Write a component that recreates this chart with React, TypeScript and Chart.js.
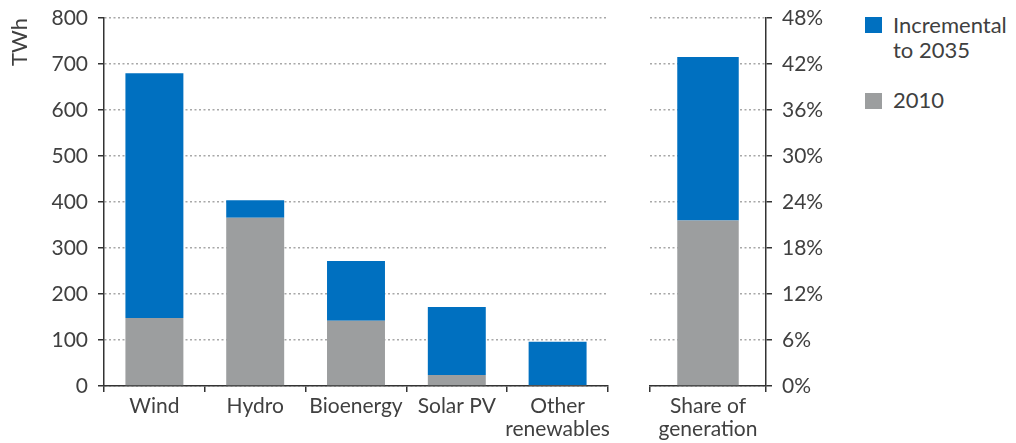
import React, { useEffect, useRef } from "react";
import { Chart, registerables } from "chart.js";

Chart.register(...registerables);

// ---- Data ----
const categories: (string | string[])[] = ["Wind", "Hydro", "Bioenergy", "Solar PV", ["Other", "renewables"]];
const values2010 = [148, 366, 142, 24, 2];
const valuesIncremental = [532, 38, 130, 148, 94];

const shareCategories: (string | string[])[] = [["Share of", "generation"]];
const share2010 = [21.6];
const shareIncremental = [21.3];

const legendLabels = ["Incremental\nto 2035", "2010"];

// ---- Styles ----
const BLUE = "#0070C0";
const GRAY = "#9C9E9F";
const TEXT = "#404040";
const AXIS = "#333333";
const GRID = "#A8A8A8";
const FONT = "Lato, 'Open Sans', sans-serif";
const TICK_SIZE = 21;

function baseScales(yOpts: any) {
  return {
    x: {
      stacked: true,
      offset: true,
      grid: {
        display: true,
        offset: true,
        drawOnChartArea: false,
        drawTicks: true,
        tickLength: 6,
        color: AXIS,
        lineWidth: 1.5,
      },
      border: { display: true, color: AXIS, width: 1.5 },
      ticks: {
        color: TEXT,
        font: { family: FONT, size: TICK_SIZE, lineHeight: 1.12 },
        padding: 2,
        maxRotation: 0,
        autoSkip: false,
      },
      afterFit: (s: any) => {
        s.height = 57;
      },
    },
    y: yOpts,
  };
}

function yScale(opts: any) {
  return {
    stacked: true,
    min: opts.min,
    max: opts.max,
    position: opts.position,
    grid: {
      color: GRID,
      lineWidth: 1.5,
      tickColor: AXIS,
      tickLength: 6,
      drawTicks: true,
    },
    border: { display: true, color: AXIS, width: 1.5, dash: [2, 2.5] },
    ticks: {
      stepSize: opts.step,
      color: TEXT,
      font: { family: FONT, size: TICK_SIZE },
      padding: 10,
      callback: opts.callback,
    },
    title: opts.title,
    afterFit: (s: any) => {
      s.width = opts.width;
      s.paddingTop = 12;
      s.paddingBottom = 12;
    },
  };
}

export default function App() {
  const leftRef = useRef<HTMLCanvasElement>(null);
  const rightRef = useRef<HTMLCanvasElement>(null);

  useEffect(() => {
    const left = new Chart(leftRef.current!, {
      type: "bar",
      data: {
        labels: categories as any,
        datasets: [
          { label: "2010", data: values2010, backgroundColor: GRAY, barPercentage: 0.575, categoryPercentage: 1 },
          { label: "Incremental to 2035", data: valuesIncremental, backgroundColor: BLUE, barPercentage: 0.575, categoryPercentage: 1 },
        ],
      },
      options: {
        animation: false,
        responsive: false,
        maintainAspectRatio: false,
        layout: { padding: { top: 18, right: 12, left: 0, bottom: 0 } },
        plugins: { legend: { display: false }, tooltip: { enabled: false } },
        scales: baseScales(
          yScale({
            min: 0,
            max: 800,
            step: 100,
            position: "left",
            width: 104,
            title: {
              display: true,
              text: "TWh",
              align: "end",
              color: TEXT,
              font: { family: FONT, size: 22, lineHeight: 1.1 },
              padding: { top: 8, bottom: 0 },
            },
          })
        ) as any,
      },
    });

    const right = new Chart(rightRef.current!, {
      type: "bar",
      data: {
        labels: shareCategories as any,
        datasets: [
          { label: "2010", data: share2010, backgroundColor: GRAY, barPercentage: 0.53, categoryPercentage: 1 },
          { label: "Incremental to 2035", data: shareIncremental, backgroundColor: BLUE, barPercentage: 0.53, categoryPercentage: 1 },
        ],
      },
      options: {
        animation: false,
        responsive: false,
        maintainAspectRatio: false,
        layout: { padding: { top: 18, right: 0, left: 20, bottom: 0 } },
        plugins: { legend: { display: false }, tooltip: { enabled: false } },
        scales: baseScales(
          yScale({
            min: 0,
            max: 48,
            step: 6,
            position: "right",
            width: 94,
            callback: (v: any) => `${v}%`,
          })
        ) as any,
      },
    });

    return () => {
      left.destroy();
      right.destroy();
    };
  }, []);

  const legendText: React.CSSProperties = {
    position: "absolute",
    left: 893,
    fontFamily: FONT,
    fontSize: 22,
    lineHeight: "25px",
    color: TEXT,
    whiteSpace: "pre",
  };

  return (
    <div style={{ position: "absolute", left: 0, top: 0, width: 1016, height: 443, background: "#fff", overflow: "hidden" }}>
      <canvas ref={leftRef} width={620} height={443} style={{ position: "absolute", left: 0, top: 0, display: "block" }} />
      <canvas ref={rightRef} width={230} height={443} style={{ position: "absolute", left: 630, top: 0, display: "block" }} />
      <div style={{ position: "absolute", left: 865, top: 17, width: 17, height: 16, background: BLUE }} />
      <div style={{ ...legendText, top: 12 }}>{legendLabels[0]}</div>
      <div style={{ position: "absolute", left: 865, top: 93, width: 17, height: 16, background: GRAY }} />
      <div style={{ ...legendText, top: 87 }}>{legendLabels[1]}</div>
    </div>
  );
}
